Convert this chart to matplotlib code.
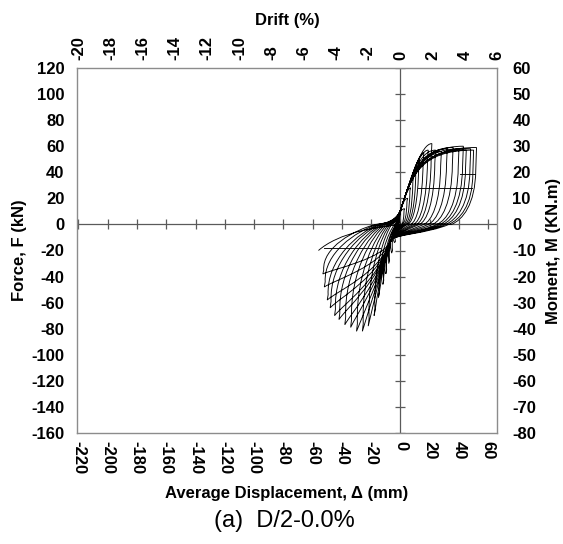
import matplotlib
matplotlib.use("Agg")
import matplotlib.pyplot as plt
from matplotlib.path import Path
from matplotlib.patches import PathPatch

# ---- cycle data (displacement in mm, force in kN) ----
pos_peak_d = [3, 5, 7, 9, 11, 13, 16, 19, 21.5, 24, 28, 32, 36, 40, 43, 45, 48, 50, 52]
pos_peak_f = [12, 20, 28, 36, 43, 50, 55, 57, 62, 57, 56, 58, 59, 58, 60, 57, 58, 57, 59]
pos_relax_f = [11, 18, 26, 33, 40, 46, 48, 49, 50, 47, 45, 46, 46, 44, 45, 43, 42, 39, 42]
unload_zero_d = [0.5, 1, 2, 3, 4, 5, 7, 9, 11, 13, 16, 19, 22, 25, 27, 29, 31, 33, 35]
neg_peak_d = [-4, -6, -8, -10, -12, -15, -18, -22, -26, -30, -34, -38, -42, -45, -48, -50, -52, -53, -56]
neg_peak_f = [-14, -22, -30, -38, -46, -56, -70, -78, -82, -82, -79, -77, -73, -70, -64, -58, -48, -38, -20]
neg_relax_f = [-13, -20, -28, -35, -43, -52, -65, -72, -76, -76, -73, -71, -68, -65, -59, -54, -44, -35, -19]
reload_zero_d = [-1, -1.5, -2, -2.5, -3, -4, -6, -7, -8, -9, -10, -11, -12, -13, -14, -15, -16, -17, -18]

# straight segments recorded at constant load
flat_start_d = [12, 41, -52]
flat_end_d = [49, 51, -14]
flat_f = [28, 38.7, -18.4]

# stiff reloading band: displacement at zero load and stiffness (kN/mm)
band_d0 = -3.0
band_k = 3.5

# ---- axis scales ----
x_ticks = list(range(-220, 61, 20))
y_ticks = list(range(-160, 121, 20))
drift_ticks = list(range(-20, 7, 2))
moment_ticks = list(range(-80, 61, 10))


def bd(f):
    return band_d0 + f / band_k


fig = plt.figure(figsize=(5.63, 5.44), dpi=100)
ax = fig.add_axes([77 / 563, 1 - 433 / 544, 420 / 563, 365 / 544])
ax.set_xlim(-221, 66)
ax.set_ylim(-160, 120)

grey = "#8c8c8c"
for s in ax.spines.values():
    s.set_color(grey)
    s.set_linewidth(1.0)

# centre axes with cross ticks
ax.axhline(0, color="#5a5a5a", lw=0.9, zorder=1)
ax.axvline(0, color="#5a5a5a", lw=0.9, zorder=1)
ax.plot(x_ticks, [0] * len(x_ticks), ls="none", marker="|", ms=7.5, mew=0.9,
        color="#5a5a5a", zorder=1)
ax.plot([0] * len(y_ticks), y_ticks, ls="none", marker="_", ms=7.5, mew=0.9,
        color="#5a5a5a", zorder=1)

# ---- hysteresis path ----
verts = [(0.0, 0.0)]
codes = [Path.MOVETO]


def seg(code, *pts):
    verts.extend(pts)
    codes.extend([code] * len(pts))


n = len(pos_peak_d)
prev_rz = 0.0
for k in range(n):
    dp, fp, frp, uz = pos_peak_d[k], pos_peak_f[k], pos_relax_f[k], unload_zero_d[k]
    dn, fn, frn, rz = neg_peak_d[k], neg_peak_f[k], neg_relax_f[k], reload_zero_d[k]
    last = k == n - 1

    # positive reloading through the pinched zone into the stiff band
    fj = min(12.0, 0.5 * fp)
    if prev_rz < bd(0) - 0.5:
        seg(Path.CURVE3, (bd(1.0), 1.0), (bd(fj), fj))
    else:
        seg(Path.LINETO, (bd(fj), fj))
    fm = fj + 0.55 * (fp - fj)
    seg(Path.CURVE4, (bd(fm), fm), (min(bd(fp), dp), fp), (dp, fp))
    # load drop at peak displacement, then unloading through zero load
    seg(Path.LINETO, (dp - 0.5, frp))
    a = 0.4 * (dp - uz) + 0.5
    seg(Path.CURVE4, (dp - 0.8, 0.35 * frp), (uz + a, 0.5 * a), (uz, 0.0))

    if last:
        # final excursion at reduced strength
        seg(Path.CURVE4, (uz - 0.55 * (uz - dn), 3.0), (dn + 12.0, -8.0), (dn, fn))
        break

    # negative reloading: soft at first, then into the stiff band
    fq = max(-12.0, 0.5 * fn)
    qd = bd(fq)
    b = 0.35 * (uz - qd)
    seg(Path.CURVE4, (uz - b, -0.5 * b), (qd + 4.0 / band_k, fq + 4.0), (qd, fq))
    # follow the band, then peel off towards the negative peak
    f1 = fq + 0.55 * (fn - fq)
    seg(Path.CURVE4, (bd(f1), f1), (dn + 0.15 * (qd - dn), fn + 0.15 * (fq - fn)), (dn, fn))
    # load drop, then unloading from the negative peak
    seg(Path.LINETO, (dn + 0.6, frn))
    span = rz - dn
    seg(Path.CURVE4, (dn - 0.5, 0.5 * frn), (rz - 0.4 * span, 0.12 * frn), (rz, 0.0))
    prev_rz = rz

ax.add_patch(PathPatch(Path(verts, codes), fill=False, edgecolor="black", lw=0.65, zorder=3))
for a0, b0, f in zip(flat_start_d, flat_end_d, flat_f):
    ax.plot([a0, b0], [f, f], color="black", lw=0.65, zorder=3)

# ---- tick labels ----
bold = dict(fontweight="bold", fontsize=12, family=["Liberation Sans", "DejaVu Sans"])
ax.set_xticks(x_ticks)
ax.set_xticklabels([str(v) for v in x_ticks], rotation=-90, **bold)
ax.set_yticks(y_ticks)
ax.set_yticklabels([str(v) for v in y_ticks], **bold)
ax.tick_params(length=0, pad=9)
ax.tick_params(axis="x", pad=6)

top = ax.secondary_xaxis("top", functions=(lambda d: d / 11.0, lambda r: r * 11.0))
top.set_xticks(drift_ticks)
top.set_xticklabels([str(v) for v in drift_ticks], rotation=90, **bold)
top.tick_params(length=0, pad=6)
for s in top.spines.values():
    s.set_visible(False)

right = ax.secondary_yaxis("right", functions=(lambda f: f / 2.0, lambda m: m * 2.0))
right.set_yticks(moment_ticks)
right.set_yticklabels([str(v) for v in moment_ticks], **bold)
right.tick_params(length=0, pad=11)
for s in right.spines.values():
    s.set_visible(False)

lab = dict(fontweight="bold", fontsize=12, family=["Liberation Sans", "DejaVu Sans"])
top.set_xlabel("Drift (%)", labelpad=8, **lab)
ax.set_xlabel("Average Displacement, Δ (mm)", labelpad=8, **lab)
ax.set_ylabel("Force, F (kN)", labelpad=3, **lab)
right.set_ylabel("Moment, M (KN.m)", labelpad=7, **lab)

fig.text(0.505, 1 - 521 / 544, "(a)  D/2-0.0%", ha="center", va="center", fontsize=17,
         family=["Liberation Sans", "DejaVu Sans"])

fig.savefig("out.png", dpi=100)
